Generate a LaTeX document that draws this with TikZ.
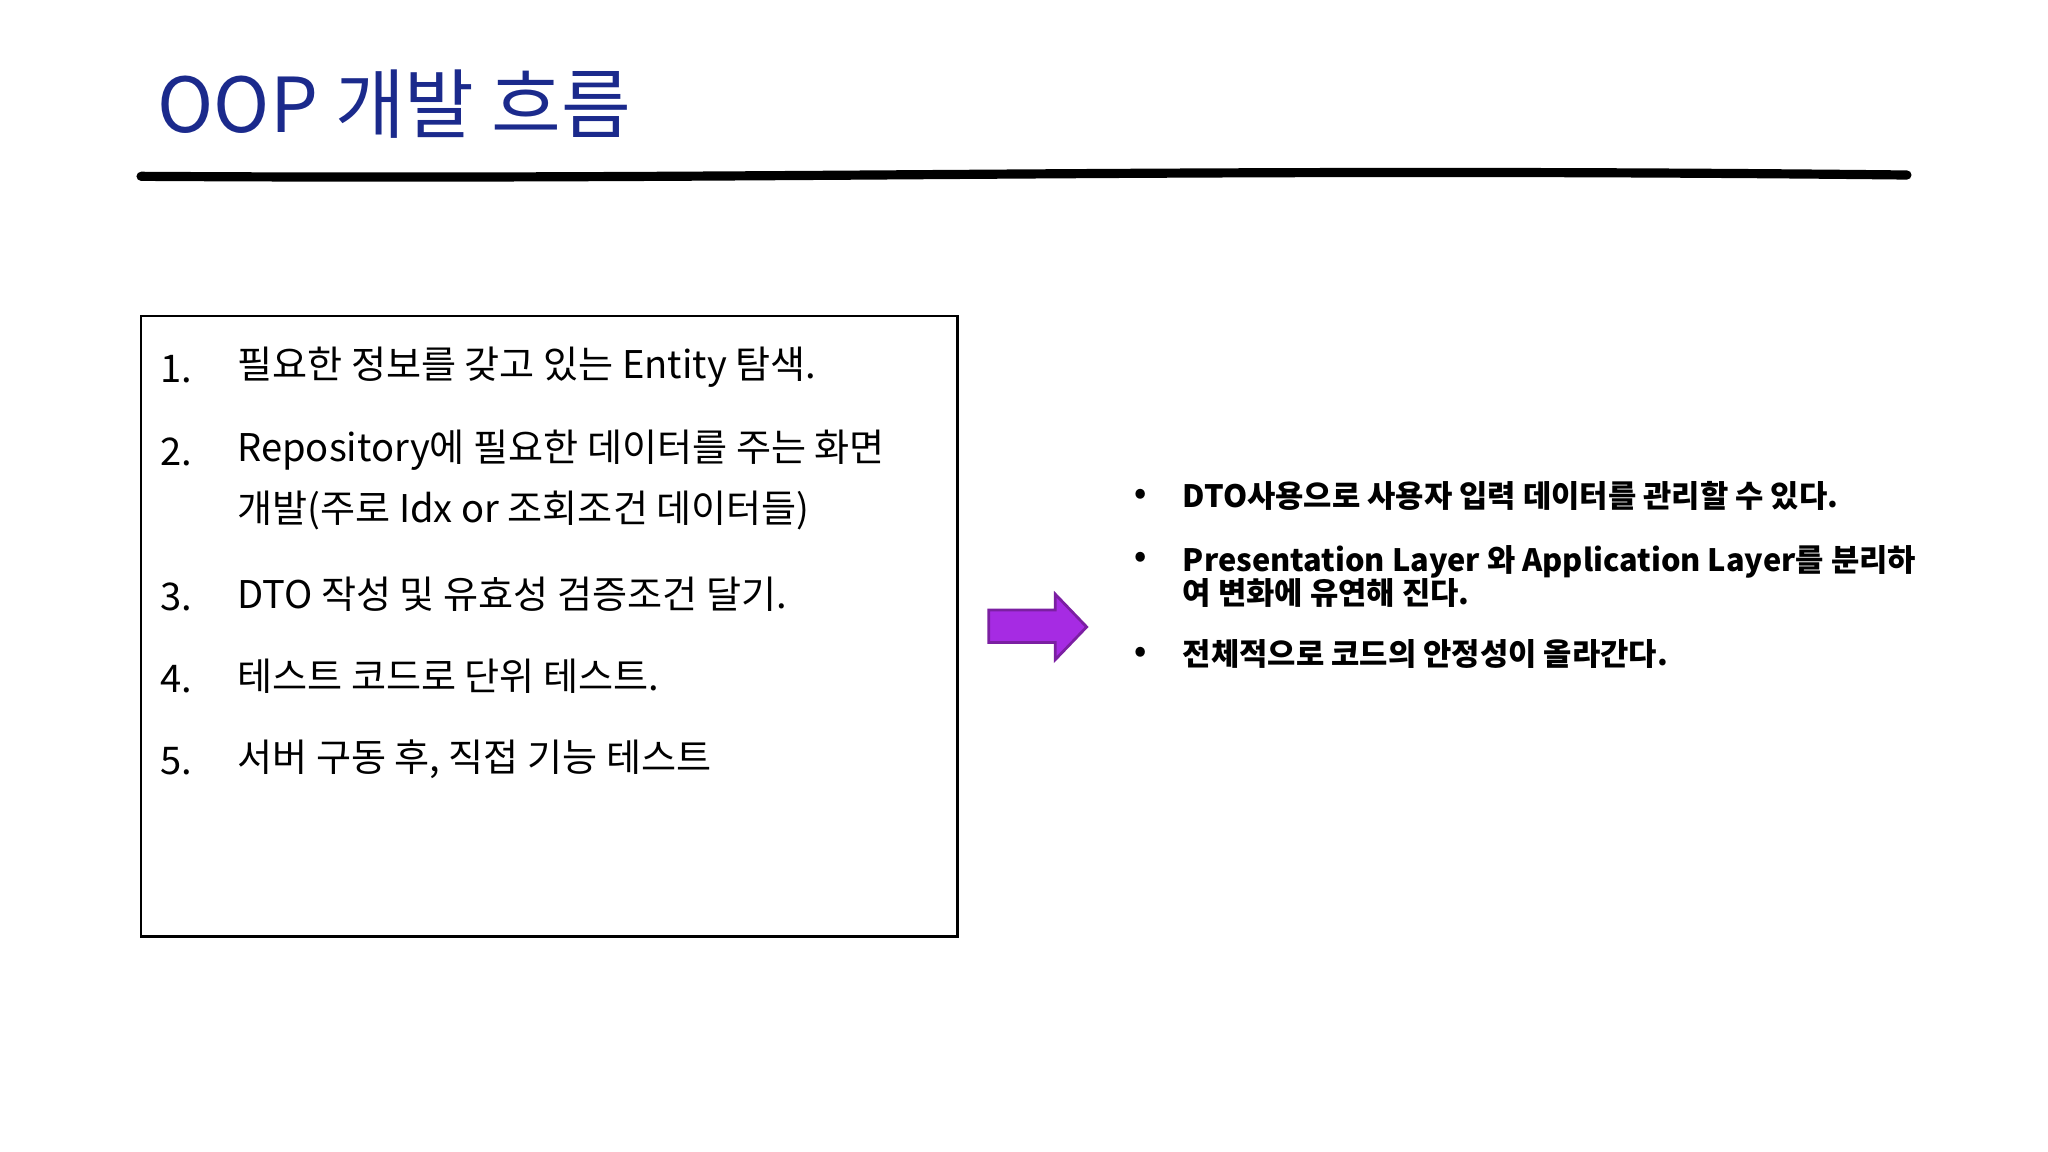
\documentclass[tikz,border=0pt]{standalone}
\usepackage{fontspec}
\setmainfont{Noto Sans CJK KR}
\begin{document}
\begin{tikzpicture}[x=0.01cm,y=-0.01cm,
  item/.style={anchor=west,inner sep=0pt,font=\fontsize{8.3}{10}\selectfont},
  bul/.style={anchor=west,inner sep=0pt,font=\fontsize{6.7}{8.2}\selectfont\bfseries,align=left},
  title/.style={anchor=west,inner sep=0pt,font=\fontsize{16.5}{20}\selectfont,text=titleblue}]
\definecolor{titleblue}{HTML}{1B2A8C}
\definecolor{arrowfill}{HTML}{A62BE3}
\definecolor{arrowedge}{HTML}{7B1FA2}
\useasboundingbox[fill=white] (0,0) rectangle (1568,882);
\node[title] (t) at (120,80) {OOP 개발 흐름};
\coordinate (l1) at (108,135); \coordinate (l2) at (1460,134);
\draw[line width=2pt,line cap=round] (l1) .. controls (600,138) and (900,128) .. (l2);
\draw[line width=0.6pt] (108,242) rectangle (733,717);
\node[item] (n1) at (122,283) {1.};
\node[item] (i1) at (181,281) {필요한 정보를 갖고 있는 Entity 탐색.};
\node[item] (n2) at (122,346) {2.};
\node[item] (i2) at (181,345) {Repository에 필요한 데이터를 주는 화면};
\node[item] (i2b) at (181,391) {개발(주로 Idx or 조회조건 데이터들)};
\node[item] (n3) at (122,457) {3.};
\node[item] (i3) at (181,455) {DTO 작성 및 유효성 검증조건 달기.};
\node[item] (n4) at (122,520) {4.};
\node[item] (i4) at (181,518) {테스트 코드로 단위 테스트.};
\node[item] (n5) at (122,583) {5.};
\node[item] (i5) at (181,581) {서버 구동 후, 직접 기능 테스트};
\draw[fill=arrowfill,draw=arrowedge,line width=0.6pt] (757,467) -- (808,467) -- (808,455) -- (832,480) -- (808,505) -- (808,492) -- (757,492) -- cycle;
\node[bul] (b1) at (868,380) {•};
\node[bul] (r1) at (905,380) {DTO사용으로 사용자 입력 데이터를 관리할 수 있다.};
\node[bul] (b2) at (868,428) {•};
\node[bul,anchor=north west] (r2) at (905,417) {Presentation Layer 와 Application Layer를 분리하\\[-1pt]여 변화에 유연해 진다.};
\node[bul] (b3) at (868,501) {•};
\node[bul] (r3) at (905,501) {전체적으로 코드의 안정성이 올라간다.};
\end{tikzpicture}
\end{document}
